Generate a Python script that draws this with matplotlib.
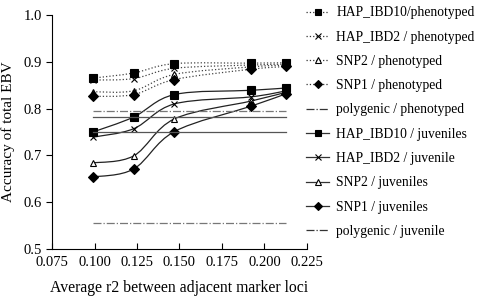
import numpy as np
import matplotlib
matplotlib.use("Agg")
import matplotlib.pyplot as plt
from matplotlib.path import Path
from matplotlib.patches import PathPatch
from matplotlib.lines import Line2D

plt.rcParams['font.family'] = ['Liberation Serif', 'DejaVu Serif']

# average r2 between adjacent marker loci
r2 = [0.099, 0.123, 0.147, 0.192, 0.213]

# accuracies, phenotyped animals
hap10_phen = [0.865, 0.876, 0.896, 0.897, 0.898]
hap2_phen = [0.861, 0.864, 0.886, 0.893, 0.895]
snp2_phen = [0.836, 0.838, 0.873, 0.889, 0.893]
snp1_phen = [0.826, 0.830, 0.862, 0.884, 0.890]

# accuracies, juveniles
hap10_juv = [0.750, 0.782, 0.830, 0.839, 0.844]
hap2_juv = [0.739, 0.757, 0.810, 0.825, 0.838]
snp2_juv = [0.684, 0.699, 0.778, 0.816, 0.835]
snp1_juv = [0.654, 0.671, 0.751, 0.805, 0.832]

# polygenic (constant) accuracies
poly_phen = 0.794
poly_juv = 0.556
other_levels = [0.782, 0.750]

labels = ["HAP_IBD10/phenotyped", "HAP_IBD2 / phenotyped", "SNP2 / phenotyped",
          "SNP1 / phenotyped", "polygenic / phenotyped", "HAP_IBD10 / juveniles",
          "HAP_IBD2 / juvenile", "SNP2 / juveniles", "SNP1 / juveniles",
          "polygenic / juvenile"]


def smooth_path(x, y):
    # bezier through the points (excel-like smoothed line)
    p = np.column_stack([x, y])
    n = len(p)
    verts = [p[0]]
    codes = [Path.MOVETO]
    for i in range(n - 1):
        p0 = p[i - 1] if i > 0 else p[i]
        p3 = p[i + 2] if i + 2 < n else p[i + 1]
        c1 = p[i] + (p[i + 1] - p0) / 6
        c2 = p[i + 1] - (p3 - p[i]) / 6
        verts += [c1, c2, p[i + 1]]
        codes += [Path.CURVE4] * 3
    return Path(verts, codes)


fig = plt.figure(figsize=(4.78, 2.98), dpi=100)
ax = fig.add_axes([0.109, 0.164, 0.533, 0.786])

phen = [(hap10_phen, 's', 'k'), (hap2_phen, 'x', 'k'), (snp2_phen, '^', 'w'), (snp1_phen, 'D', 'k')]
for ys, m, fc in phen:
    ax.add_patch(PathPatch(smooth_path(r2, ys), fill=False, ls=':', lw=0.9, ec='#444444'))
    ax.plot(r2, ys, ls='none', marker=m, mfc=fc, mec='k', ms=6 if m == 's' else 5,
            mew=0.8)

juv = [(hap10_juv, 's', 'k'), (hap2_juv, 'x', 'k'), (snp2_juv, '^', 'w'), (snp1_juv, 'D', 'k')]
for ys, m, fc in juv:
    ax.add_patch(PathPatch(smooth_path(r2, ys), fill=False, ls='-', lw=0.9, ec='#222222'))
    ax.plot(r2, ys, ls='none', marker=m, mfc=fc, mec='k', ms=6 if m == 's' else 5,
            mew=0.8)

ax.plot([r2[0], r2[-1]], [poly_phen, poly_phen], ls='-.', color='#777777', lw=0.9)
ax.plot([r2[0], r2[-1]], [poly_juv, poly_juv], ls='-.', color='#777777', lw=0.9)
for lv in other_levels:
    ax.plot([r2[0], r2[-1]], [lv, lv], ls='-', color='#555555', lw=0.9)

# legend handles
styles = [(':', 's', 'k'), (':', 'x', 'k'), (':', '^', 'w'), (':', 'D', 'k'), ('-.', None, 'k'),
          ('-', 's', 'k'), ('-', 'x', 'k'), ('-', '^', 'w'), ('-', 'D', 'k'), ('-.', None, 'k')]
handles = []
for (ls, m, fc), lab in zip(styles, labels):
    handles.append(Line2D([], [], ls=ls, marker=m, mfc=fc, mec='k', color='#333333',
                          lw=0.9, ms=5 if m == 's' else 4, mew=0.8, label=lab))
fig.legend(handles=handles, loc='upper left', bbox_to_anchor=(0.615, 1.02),
           frameon=False, fontsize=9.8, handlelength=1.7, labelspacing=0.83,
           handletextpad=0.5)

ax.set_xlim(0.075, 0.225)
ax.set_ylim(0.5, 1.0)
ax.set_xticks(np.arange(0.075, 0.2251, 0.025))
ax.set_yticks(np.arange(0.5, 1.01, 0.1))
ax.xaxis.set_major_formatter(matplotlib.ticker.FormatStrFormatter('%.3f'))
ax.yaxis.set_major_formatter(matplotlib.ticker.FormatStrFormatter('%.1f'))
ax.tick_params(axis='x', direction='in', length=4, labelsize=10.5, pad=5)
ax.tick_params(axis='y', direction='out', length=4, labelsize=10.5)
ax.spines['top'].set_visible(False)
ax.spines['right'].set_visible(False)
ax.set_xlabel("Average r2 between adjacent marker loci", fontsize=11.3, labelpad=8)
ax.set_ylabel("Accuracy of total EBV", fontsize=11, labelpad=6)

fig.savefig("out.png", dpi=100)
